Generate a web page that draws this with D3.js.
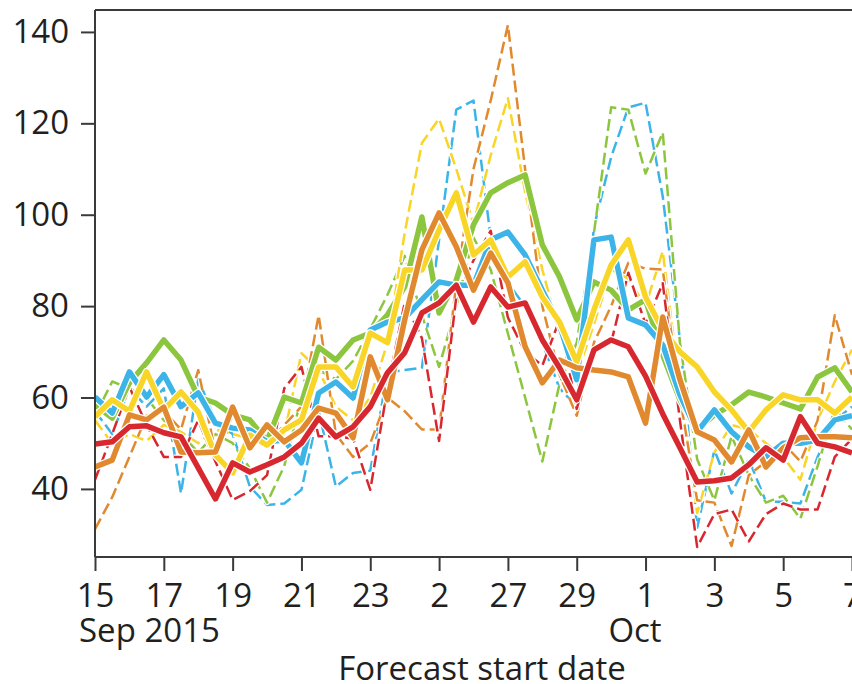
<!DOCTYPE html>
<html>
<head>
<meta charset="utf-8">
<script src="https://cdn.jsdelivr.net/npm/d3@7"></script>
<style>
  body { margin: 0; background: #fff; }
  text { font-family: "Open Sans", "Noto Sans", sans-serif; fill: #231f20; }
</style>
</head>
<body>
<svg id="chart" width="852" height="684"></svg>
<script>
// 12-hourly forecast start times, 15 Sep 2015 00Z onwards
const startDate = new Date(Date.UTC(2015, 8, 15))
const times = d3.range(45).map(i => d3.utcHour.offset(startDate, 12 * i))

// thick solid lines
const blueSolid = [60.1,56.6,65.6,60.1,65,58,61,54.4,53.3,52.9,50.3,50.7,45.7,61,63.4,59.9,74.8,76.5,77.4,81.4,85.3,84.6,84.5,94.5,96.2,91.2,83.5,75.9,63.9,94.5,95.1,77.4,75.9,71.5,60.6,52.5,57.3,52.5,49.2,47,50,50,50.7,55.1,56]
const greenSolid = [58.4,55.5,63.2,67.6,72.6,68.2,60.1,58.8,56.2,55.1,50.5,60.1,58.8,71,68.2,72.6,74.1,78.1,84.2,99.5,78.5,85.7,97.8,104.8,107,108.7,93.4,86.4,77,85.3,83.5,79.2,81.4,69.3,59.5,52.9,56.2,58.4,61.2,60.1,58.8,57.5,64.5,66.5,61.2]
const yellowSolid = [55.8,59.5,57,65.6,57.3,61.2,56.8,47.4,43.5,51.8,49.6,52.9,55.1,66.7,66.7,62.3,74.1,72,87.9,87.9,96.7,104.8,91.2,94.5,86.4,89.7,82,76.5,67.8,79.2,89,94.5,82,74.8,70,66.7,61.2,57.3,52.5,57.3,60.6,59.5,59.5,56.6,60.1]
const orangeSolid = [44.8,46.3,56.2,55.1,57.9,48.1,47.9,48.1,57.9,49,54,50.3,52.9,57.7,56.6,51.2,68.9,59.5,77,92.3,100.4,93,83.5,91.6,85.1,71.1,63.2,68.2,66.5,66,65.6,64.5,54.4,77.6,63.9,52.5,50.7,45.9,52.9,44.8,49,51.2,51.4,51.4,51.2]
const redSolid = [49.8,50.3,53.6,53.8,52.3,51.4,44.6,37.8,45.7,43.7,45.3,47,50,55.5,51.4,53.6,58,65.4,69.8,78.5,80.7,84.6,76.5,84.2,79.8,80.7,72.6,66.5,59.5,70.4,72.6,71.1,64.7,56.4,49,41.5,41.8,42.4,45.3,49,46.3,55.8,50,49.2,47.9]

// thin dashed lines
const blueDashed = [57,52,62,58,62,39,64,55,52,40.5,36.5,36.8,39.8,57,40.5,43.5,44,65.5,66,66.5,94.5,123,125,95,85,80,72,62,58,97.3,112.6,123.5,124.5,104,72.6,31.5,48.5,39,46.5,37.2,37.2,36.8,47,55,58]
const greenDashed = [56,63.5,62,60,55,52,48,52,50,44.5,37,45,60,66,64,68,75,82.5,91,78,66.7,80,95,88,74,60,46,63,72,96,123.5,123,109,118,72,46.5,37.5,51.5,43,37,38.5,33.5,45,57.5,53]
const yellowDashed = [55,50,52,50.5,54,52.5,50,53,52,51,50,52,69.7,66,58,55,60,72,96,115.7,121,110,98,113,125.5,105,88,74,65,76,88,86,80,92,62,34.7,48,54,53,50,47,42,55,63.5,70.5]
const orangeDashed = [31.2,38.2,47,56,57,53,66,48,56,52,50,54,58,78,52,47,50,60,57,53,53,85,110,125,141.5,110,80,65,56,72,80,89.5,88.2,88,60,37.5,37,27.5,43,46,50,46,55,78,65]
const redDashed = [42,52,62.3,54,47,47,55,46,37.6,39.5,43,62,66.7,51.5,51.5,51,39.8,62,80.7,73,50.5,82,90,96.5,77.5,70,67,77,57.5,71,72,87.3,76,85,55,27.3,34.5,35.5,28.5,34.5,36.8,35.5,35.5,47,51]

// axis ticks
const yTicks = [40, 60, 80, 100, 120, 140]
const xTickDays = [15, 17, 19, 21, 23, 25, 27, 29, 31, 33, 35, 37]   // days after 31 Aug
const xTickLabels = ["15", "17", "19", "21", "23", "2", "27", "29", "1", "3", "5", "7"]

const colours = {
  blue: "#3cb4e7",
  green: "#8cc63f",
  yellow: "#f8d526",
  orange: "#e1892e",
  red: "#d7282f"
}

const dashedSeries = [
  { name: "blue", values: blueDashed },
  { name: "green", values: greenDashed },
  { name: "yellow", values: yellowDashed },
  { name: "orange", values: orangeDashed },
  { name: "red", values: redDashed }
]
const solidSeries = [
  { name: "green", values: greenSolid },
  { name: "blue", values: blueSolid },
  { name: "yellow", values: yellowSolid },
  { name: "orange", values: orangeSolid },
  { name: "red", values: redSolid }
]

const plotLeft = 95, plotRight = 852, plotTop = 10, plotBottom = 557
const fontSize = "33px"
const svg = d3.select("#chart")

const x = d3.scaleUtc()
  .domain([startDate, d3.utcDay.offset(startDate, 22)])
  .range([plotLeft, plotRight])
const y = d3.scaleLinear()
  .domain([25.1, 144.8])
  .range([plotBottom, plotTop])

svg.append("defs").append("clipPath")
  .attr("id", "plotClip")
  .append("rect")
  .attr("x", plotLeft).attr("y", plotTop)
  .attr("width", plotRight - plotLeft).attr("height", plotBottom - plotTop)

const line = d3.line()
  .x((d, i) => x(times[i]))
  .y(d => y(d))

const plot = svg.append("g").attr("clip-path", "url(#plotClip)")

function drawLines(series, width, dash) {
  series.forEach(s => {
    // white halo underneath, as in the original
    plot.append("path")
      .datum(s.values)
      .attr("d", line)
      .attr("fill", "none")
      .attr("stroke", "white")
      .attr("stroke-width", width + 2.5)
      .attr("stroke-linejoin", "round")
      .attr("stroke-dasharray", dash)
    plot.append("path")
      .datum(s.values)
      .attr("d", line)
      .attr("fill", "none")
      .attr("stroke", colours[s.name])
      .attr("stroke-width", width)
      .attr("stroke-linejoin", "round")
      .attr("stroke-dasharray", dash)
  })
}

drawLines(dashedSeries, 2.5, "12,5")
drawLines(solidSeries, 5.5, null)

// frame
const axisColour = "#3a3a3a"
svg.append("line")
  .attr("x1", plotLeft).attr("x2", plotRight).attr("y1", plotTop).attr("y2", plotTop)
  .attr("stroke", axisColour).attr("stroke-width", 2)

// y axis
const yAxis = svg.append("g")
  .attr("transform", `translate(${plotLeft},0)`)
  .call(d3.axisLeft(y).tickValues(yTicks).tickSize(14).tickPadding(12))
yAxis.select(".domain").attr("d", `M0,${plotTop}V${plotBottom}`)

// x axis
const xTickDates = xTickDays.map(d => d3.utcDay.offset(new Date(Date.UTC(2015, 7, 31)), d))
const xAxis = svg.append("g")
  .attr("transform", `translate(0,${plotBottom})`)
  .call(d3.axisBottom(x).tickValues(xTickDates).tickSize(14).tickPadding(13)
    .tickFormat((d, i) => xTickLabels[i]))
xAxis.select(".domain").attr("d", `M${plotLeft},0H${plotRight + 5}`)

svg.selectAll(".tick line, .domain")
  .attr("stroke", axisColour)
  .attr("stroke-width", 2)
svg.selectAll(".tick text")
  .style("font-family", '"Open Sans", "Noto Sans", sans-serif')
  .style("font-size", fontSize)
  .attr("fill", "#231f20")

svg.append("text")
  .attr("x", 79).attr("y", 642)
  .style("font-size", fontSize)
  .text("Sep 2015")
svg.append("text")
  .attr("x", 635).attr("y", 642)
  .attr("text-anchor", "middle")
  .style("font-size", fontSize)
  .text("Oct")
svg.append("text")
  .attr("x", 482).attr("y", 680)
  .attr("text-anchor", "middle")
  .style("font-size", fontSize)
  .text("Forecast start date")
</script>
</body>
</html>
